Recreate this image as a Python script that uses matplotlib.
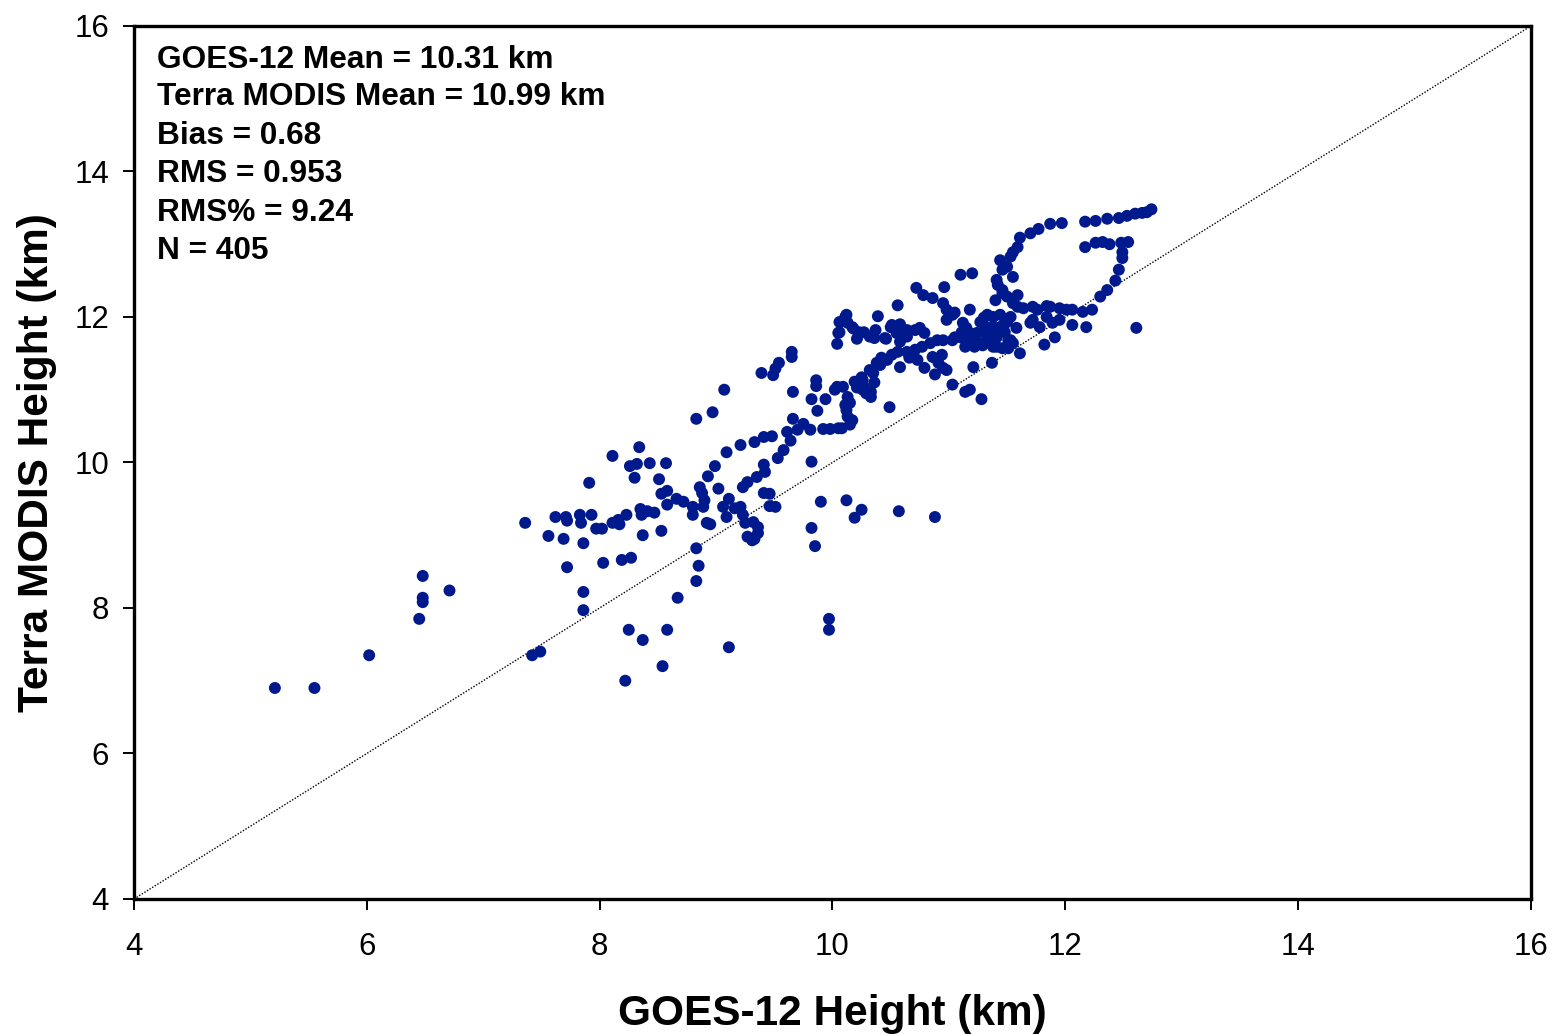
import matplotlib
matplotlib.use("Agg")
import matplotlib.pyplot as plt

plt.rcParams['font.family'] = ['Liberation Sans', 'DejaVu Sans']

# GOES-12 height (km) vs Terra MODIS height (km)
goes = [
    5.21, 5.55, 6.02, 6.48, 6.71, 6.48, 6.48, 6.45,
    7.72, 8.03, 8.19, 8.27, 7.86, 7.86, 8.85, 8.83, 8.67, 7.42, 7.49, 8.25, 8.37, 8.58, 8.54, 8.22, 9.11,
    9.97, 9.97, 9.85, 9.82, 9.90, 10.12, 10.19, 10.25, 10.57, 10.88,
    8.34, 8.11, 8.26, 8.32, 8.43, 8.57, 8.30, 8.51, 7.91, 8.53, 8.58, 8.58, 8.66, 8.72, 8.80, 8.86, 8.88,
    8.90, 8.89, 8.93, 8.80, 8.92, 7.36, 7.62, 7.71, 7.72, 7.83, 7.84, 7.93, 7.56, 7.69, 7.86, 7.97, 8.02,
    8.11, 8.16, 8.17, 8.23, 8.35, 8.36, 8.41, 8.47, 8.37, 8.53, 8.83,
    9.65, 9.65, 9.54, 9.51, 9.49, 9.39, 9.07, 8.83, 8.97, 9.66, 9.86, 9.86, 9.82, 9.94, 9.87, 10.02, 10.04,
    10.05, 9.66, 9.75, 9.81, 9.70, 9.61, 9.92, 9.98, 10.05, 9.64, 9.48, 9.41, 9.33, 9.21, 9.09, 9.58, 9.53,
    8.99, 9.41, 9.42, 9.35, 9.27, 9.23, 9.02, 9.11, 9.06, 9.09, 8.95, 9.41, 9.46, 9.46, 9.51, 9.16, 9.21,
    9.23, 9.25, 9.32, 9.36, 9.36, 9.33, 9.27, 9.31, 9.82,
    10.72, 10.56, 10.39, 10.12, 10.06, 10.06, 10.18, 10.27, 10.21, 10.32, 10.37, 10.46, 10.50, 10.58, 10.64,
    10.71, 10.78, 10.86, 10.95, 10.98, 11.03, 11.05, 10.98, 11.18, 11.40, 11.46, 11.30, 11.38, 11.44, 11.50,
    11.12, 11.11, 11.18, 11.24, 10.49, 10.04, 10.09, 10.13, 10.15, 10.12, 10.13, 10.17, 10.15, 10.08,
    11.10, 11.20, 10.96,
    11.44, 11.46, 11.50, 11.53, 11.55, 11.59, 11.61, 11.70, 11.77, 11.87, 11.97, 11.41, 11.42, 11.46, 11.50,
    11.55, 11.59, 11.55,
    12.17, 12.26, 12.36, 12.46, 12.53, 12.60, 12.66, 12.70, 12.74,
    12.17, 12.26, 12.32, 12.38, 12.48, 12.54, 12.49, 12.49, 12.46, 12.43, 12.36, 12.30, 12.23, 12.61,
    11.59, 11.72, 11.84, 11.95, 12.06, 12.15, 11.72, 11.84, 11.89, 11.70, 11.78, 12.06, 12.18, 11.91,
    11.33, 11.47, 11.53, 11.32, 11.38, 11.41, 11.33, 11.29, 11.05, 11.22, 11.14, 11.64, 11.76, 11.87, 12.01,
    11.95, 11.53, 11.55, 11.41, 11.61, 11.51, 11.58, 11.37, 11.28, 11.14, 11.18, 11.03, 11.21,
    10.19, 10.26, 10.35, 10.41, 10.47, 10.51, 10.56, 10.64, 10.71, 10.77, 10.84, 10.90, 10.95, 11.03, 11.10,
    11.16, 11.27, 11.38, 11.46, 10.25, 10.27, 10.29, 10.33, 10.36, 10.32, 10.38, 10.42, 10.58, 10.60, 10.66,
    10.73, 10.79, 10.88, 10.91, 10.95, 10.98, 10.94, 10.86, 10.55, 10.58, 10.64, 10.75, 10.79, 10.51, 10.45,
    10.36, 10.23, 10.17, 10.13, 10.11, 10.26, 10.21, 10.33, 10.11,
    11.15, 11.22, 11.27, 11.44, 11.48, 11.51, 11.31, 11.37, 11.82,
]
modis = [
    6.90, 6.90, 7.35, 8.44, 8.24, 8.08, 8.14, 7.85,
    8.56, 8.62, 8.66, 8.69, 8.22, 7.97, 8.58, 8.37, 8.14, 7.35, 7.40, 7.70, 7.56, 7.70, 7.20, 7.00, 7.46,
    7.85, 7.70, 8.85, 9.10, 9.46, 9.48, 9.24, 9.35, 9.33, 9.25,
    10.21, 10.09, 9.95, 9.98, 9.99, 9.99, 9.79, 9.77, 9.72, 9.57, 9.61, 9.42, 9.50, 9.46, 9.39, 9.66, 9.58,
    9.48, 9.39, 9.81, 9.28, 9.17, 9.17, 9.25, 9.25, 9.20, 9.28, 9.17, 9.28, 8.99, 8.95, 8.89, 9.09, 9.09,
    9.17, 9.21, 9.15, 9.28, 9.36, 9.28, 9.33, 9.31, 9.00, 9.06, 8.82,
    11.52, 11.45, 11.37, 11.29, 11.20, 11.23, 11.00, 10.60, 10.69, 10.97, 11.13, 11.05, 10.87, 10.87, 10.71, 11.00, 11.63,
    11.78, 10.60, 10.53, 10.45, 10.45, 10.42, 10.46, 10.46, 10.47, 10.30, 10.36, 10.35, 10.28, 10.24, 10.14, 10.17, 10.06,
    9.95, 9.97, 9.87, 9.80, 9.73, 9.66, 9.64, 9.50, 9.39, 9.25, 9.15, 9.58, 9.57, 9.40, 9.39, 9.37, 9.39,
    9.28, 9.17, 9.18, 9.11, 9.03, 8.95, 8.98, 8.93, 10.01,
    12.40, 12.16, 12.01, 12.03, 11.93, 11.79, 11.84, 11.79, 11.70, 11.73, 11.82, 11.70, 11.86, 11.90, 11.82,
    11.82, 12.30, 12.26, 12.19, 12.10, 12.03, 12.06, 11.96, 12.10, 12.23, 12.33, 11.99, 12.00, 12.03, 11.93,
    11.92, 11.79, 11.78, 11.78, 10.76, 11.04, 11.04, 10.90, 10.82, 10.72, 10.63, 10.58, 10.52, 10.47,
    12.58, 12.60, 12.41,
    12.78, 12.65, 12.69, 12.83, 12.89, 12.96, 13.09, 13.15, 13.21, 13.28, 13.29, 12.51, 12.44, 12.37, 12.28,
    12.55, 12.30, 12.19,
    13.31, 13.32, 13.35, 13.36, 13.39, 13.42, 13.43, 13.44, 13.48,
    12.96, 13.02, 13.03, 13.00, 13.02, 13.03, 12.89, 12.81, 12.65, 12.50, 12.37, 12.28, 12.10, 11.85,
    12.14, 12.14, 12.15, 12.12, 12.10, 12.07, 11.96, 12.00, 11.92, 11.92, 11.86, 11.89, 11.86, 11.72,
    12.03, 11.89, 12.00, 11.86, 11.86, 11.72, 11.71, 11.61, 11.72, 11.59, 11.59, 12.12, 12.10, 12.14, 12.10,
    11.96, 11.68, 11.64, 11.59, 11.50, 11.57, 11.85, 11.37, 10.87, 10.97, 11.00, 11.07, 11.31,
    11.11, 11.13, 11.23, 11.34, 11.41, 11.48, 11.52, 11.52, 11.55, 11.59, 11.64, 11.68, 11.68, 11.68, 11.72,
    11.68, 11.64, 11.59, 11.57, 11.17, 11.04, 10.95, 10.97, 11.10, 11.27, 11.37, 11.44, 11.31, 11.78, 11.44,
    11.41, 11.30, 11.21, 11.37, 11.30, 11.27, 11.48, 11.45, 11.78, 11.66, 11.73, 11.85, 11.78, 11.89, 11.71,
    11.71, 11.79, 11.86, 11.92, 12.00, 11.00, 11.03, 10.90, 10.79,
    11.85, 11.68, 11.93, 11.86, 11.79, 11.68, 11.79, 11.72, 11.62,
]

stats_lines = [
    "GOES-12 Mean = 10.31 km",
    "Terra MODIS Mean = 10.99 km",
    "Bias = 0.68",
    "RMS = 0.953",
    "RMS% = 9.24",
    "N = 405",
]
ticks = [4, 6, 8, 10, 12, 14, 16]

fig = plt.figure(figsize=(15.53, 10.34), dpi=100)
ax = fig.add_axes([0.0863, 0.1306, 0.8995, 0.8443])

ax.plot([4, 16], [4, 16], color='black', linestyle=(0, (1, 1.2)), linewidth=1.0, zorder=1)
ax.scatter(goes, modis, s=74, color='#001A8E', edgecolors='none', zorder=2)

ax.set_xlim(4, 16)
ax.set_ylim(4, 16)
ax.set_xticks(ticks)
ax.set_yticks(ticks)
ax.tick_params(axis='both', direction='out', length=8, width=1.4, labelsize=22.5)
ax.tick_params(axis='x', pad=16)
ax.tick_params(axis='y', pad=10)
for sp in ax.spines.values():
    sp.set_linewidth(2.4)

ax.set_xlabel("GOES-12 Height (km)", fontsize=30.5, fontweight='bold', labelpad=23)
ax.set_ylabel("Terra MODIS Height (km)", fontsize=30.5, fontweight='bold', labelpad=12)

ys = [0.952, 0.909, 0.865, 0.821, 0.777, 0.733]
for t, yy in zip(stats_lines, ys):
    ax.text(0.0165, yy, t, transform=ax.transAxes, fontsize=22.8, fontweight='bold',
            va='baseline', ha='left')

fig.savefig("out.png", dpi=100)
